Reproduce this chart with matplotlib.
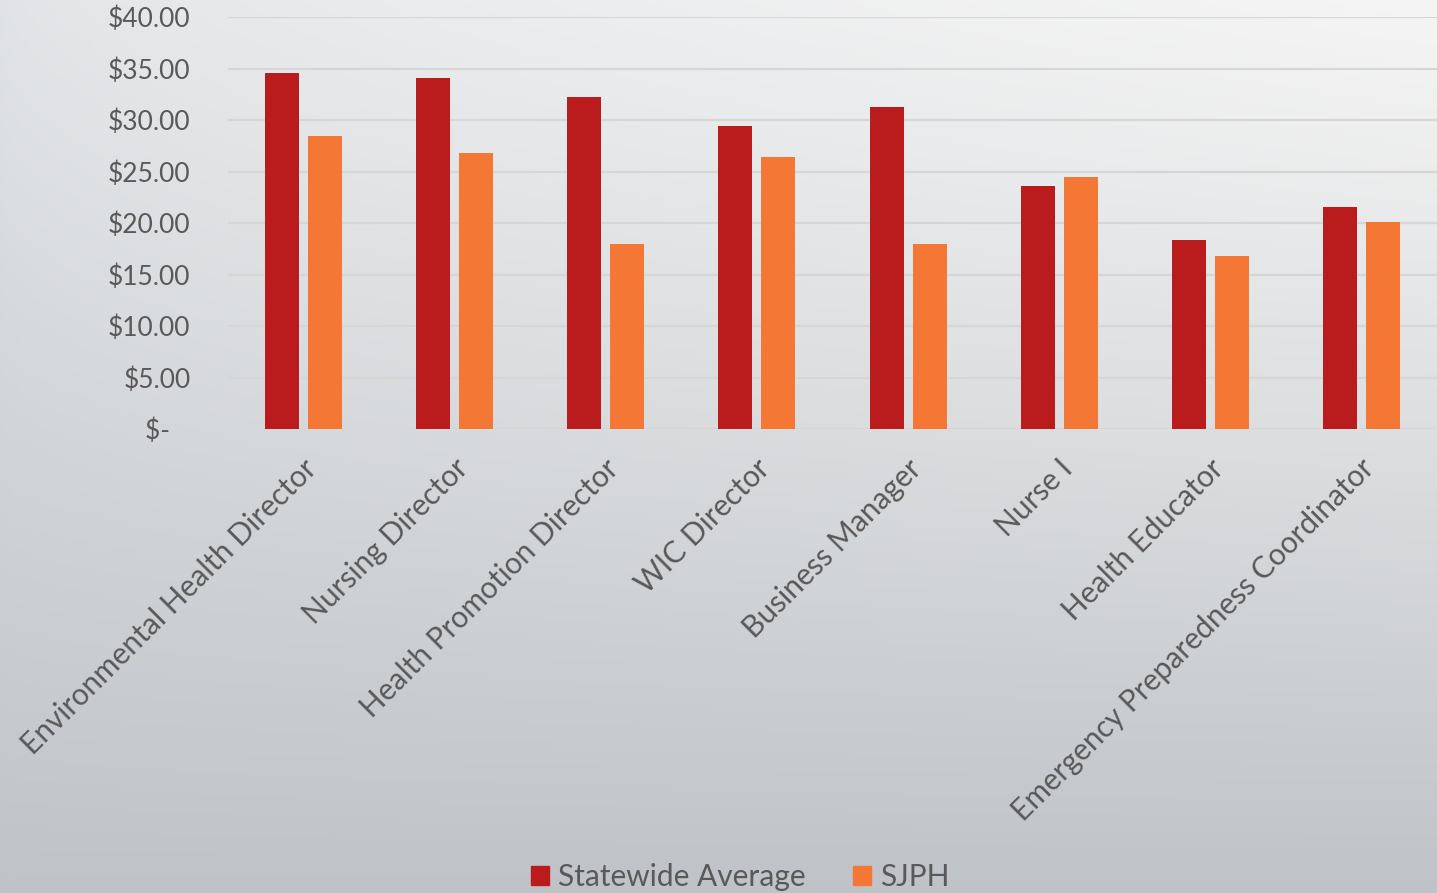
import matplotlib
matplotlib.use("Agg")
import matplotlib.pyplot as plt
import numpy as np
from matplotlib.patches import Patch
import matplotlib.transforms as mtransforms

categories = ["Environmental Health Director", "Nursing Director", "Health Promotion Director",
              "WIC Director", "Business Manager", "Nurse I", "Health Educator",
              "Emergency Preparedness Coordinator"]
statewide = [34.55, 34.05, 32.2, 29.4, 31.25, 23.6, 18.35, 21.55]
sjph = [28.45, 26.8, 17.95, 26.4, 17.95, 24.45, 16.8, 20.1]
yticks = [0, 5, 10, 15, 20, 25, 30, 35, 40]
ytick_labels = ["$-   ", "$5.00", "$10.00", "$15.00", "$20.00", "$25.00", "$30.00", "$35.00", "$40.00"]

plt.rcParams['font.family'] = ['Lato', 'DejaVu Sans']
TXT = '#595959'
RED = '#BA1B1D'
ORG = '#F47735'

fig = plt.figure(figsize=(14.37, 8.93), dpi=100)

# background gradient
bg = fig.add_axes([0, 0, 1, 1], zorder=-10)
h, w = 200, 320
yy, xx = np.mgrid[0:1:h*1j, 0:1:w*1j]
top = np.array([0.88, 0.89, 0.90])
topr = np.array([0.96, 0.96, 0.96])
bot = np.array([0.75, 0.765, 0.78])
t = np.clip(yy ** 1.1, 0, 1)[..., None]
rowtop = top + (topr - top) * (xx[..., None] ** 0.6)
img = rowtop * (1 - t) + bot * t
bg.imshow(img, aspect='auto', extent=[0, 1, 0, 1], origin='upper')
bg.axis('off')

ax = fig.add_axes([228/1437, 1 - 429/893, 1 - 228/1437, (429 - 17)/893])
ax.set_facecolor('none')
x = np.arange(len(categories))
bw = 0.225
off = 0.142
ax.bar(x - off, statewide, bw, color=RED, zorder=3, label='Statewide Average')
ax.bar(x + off, sjph, bw, color=ORG, zorder=3, label='SJPH')
ax.set_xlim(-0.5, len(categories) - 0.5)
ax.set_ylim(0, 40)
ax.set_yticks(yticks)
ax.set_yticklabels(ytick_labels)
ax.yaxis.grid(True, color='#d6d6d6', linewidth=1.6, zorder=0)
ax.set_axisbelow(True)
for s in ax.spines.values():
    s.set_visible(False)
ax.tick_params(axis='y', length=0, pad=27, labelsize=19, labelcolor=TXT)
ax.tick_params(axis='x', length=0, pad=18, labelsize=21.5, labelcolor=TXT)
ax.set_xticks(x)
ax.set_xticklabels(categories, rotation=45, ha='right', va='top', rotation_mode='anchor')
offset = mtransforms.ScaledTranslation(-1/72, 0, fig.dpi_scale_trans)
for lab in ax.get_xticklabels():
    lab.set_transform(lab.get_transform() + offset)

handles = [Patch(color=RED, label='Statewide Average'), Patch(color=ORG, label='SJPH')]
fig.legend(handles=handles, loc='center', bbox_to_anchor=(740/1437, 1 - 877/893), ncol=2,
           frameon=False, fontsize=21.5, labelcolor=TXT, handlelength=0.6, handleheight=0.6,
           handletextpad=0.3, columnspacing=1.6)

fig.savefig('out.png', dpi=100)
